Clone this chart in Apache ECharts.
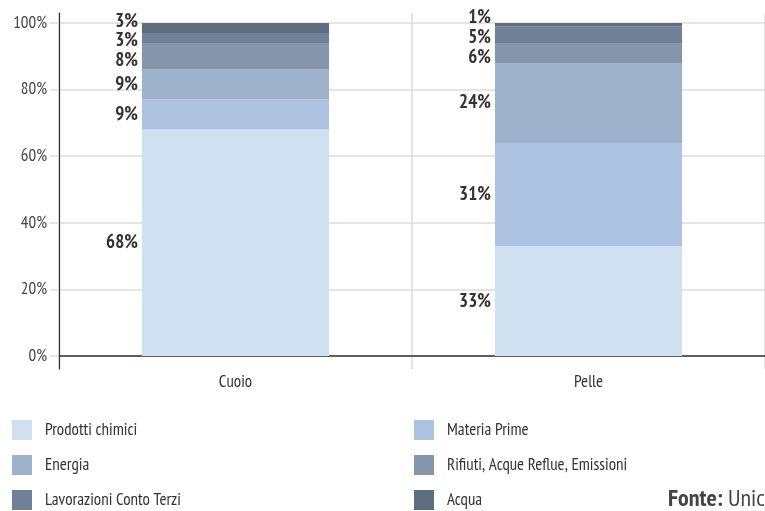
<!DOCTYPE html>
<html>
<head>
<meta charset="utf-8">
<script src="https://cdn.jsdelivr.net/npm/echarts@6/dist/echarts.min.js"></script>
<style>
  html, body { margin: 0; padding: 0; background: #fff; }
  #chart { width: 765px; height: 511px; }
</style>
</head>
<body>
<div id="chart"></div>
<script>
// Cost breakdown (%) for the two product categories
const categories = ['Cuoio', 'Pelle'];
const prodottiChimici = [68, 33];
const materiaPrime = [9, 31];
const energia = [9, 24];
const rifiuti = [8, 6];
const lavorazioni = [3, 5];
const acqua = [3, 1];
const yTicks = [0, 20, 40, 60, 80, 100];

const FONT = '"PT Sans Narrow", "Roboto Condensed", sans-serif';

const seriesDefs = [
  { name: 'Prodotti chimici', data: prodottiChimici, color: '#cfe1f0' },
  { name: 'Materia Prime', data: materiaPrime, color: '#adc2e0' },
  { name: 'Energia', data: energia, color: '#9fb2cc' },
  { name: 'Rifiuti, Acque Reflue, Emissioni', data: rifiuti, color: '#8595ab' },
  { name: 'Lavorazioni Conto Terzi', data: lavorazioni, color: '#718197' },
  { name: 'Acqua', data: acqua, color: '#5e6e7e' }
];

// Label centres (in % units) for every segment: start at the segment middle,
// then spread crowded neighbours apart symmetrically so they never collide.
const LABEL_GAP = 5.9;
function clusterLayout(cl, centres) {
  const mean = cl.members.reduce(function (s, i) { return s + centres[i]; }, 0) / cl.members.length;
  const top = mean + (cl.members.length - 1) * LABEL_GAP / 2;
  return cl.members.map(function (i, k) { return top - k * LABEL_GAP; });
}
function spreadLabels(values) {
  const centres = [];
  let acc = 0;
  values.forEach(function (v) { centres.push(acc + v / 2); acc += v; });
  // walk from the top of the stack downwards
  const order = centres.map(function (c, i) { return i; }).reverse();
  const clusters = [];
  order.forEach(function (idx) {
    clusters.push({ members: [idx] });
    // merge while the new cluster collides with the one above it
    while (clusters.length > 1) {
      const cur = clusters[clusters.length - 1];
      const prev = clusters[clusters.length - 2];
      const prevPos = clusterLayout(prev, centres);
      const curPos = clusterLayout(cur, centres);
      if (prevPos[prevPos.length - 1] - curPos[0] < LABEL_GAP) {
        prev.members = prev.members.concat(cur.members);
        clusters.pop();
      } else {
        break;
      }
    }
  });
  const out = centres.slice();
  clusters.forEach(function (cl) {
    const pos = clusterLayout(cl, centres);
    cl.members.forEach(function (i, k) { out[i] = pos[k]; });
  });
  return { natural: centres, placed: out };
}
const labelPlan = categories.map(function (c, ci) {
  return spreadLabels(seriesDefs.map(function (s) { return s.data[ci]; }));
});

const chart = echarts.init(document.getElementById('chart'), null, { renderer: 'canvas' });

const legendCommon = {
  orient: 'vertical',
  top: 420,
  padding: 0,
  itemWidth: 20,
  itemHeight: 20,
  itemGap: 15,
  icon: 'rect',
  selectedMode: false,
  textStyle: { fontFamily: FONT, fontSize: 17, color: '#333', padding: [0, 0, 0, 8] }
};

chart.setOption({
  animation: false,
  backgroundColor: '#ffffff',
  grid: [
    { left: 59, right: 0, top: 23, bottom: 155 },
    { left: 59, right: -1, top: 13, bottom: 142 }
  ],
  legend: [
    Object.assign({ left: 12, data: ['Prodotti chimici', 'Energia', 'Lavorazioni Conto Terzi'] }, legendCommon),
    Object.assign({ left: 414, data: ['Materia Prime', 'Rifiuti, Acque Reflue, Emissioni', 'Acqua'] }, legendCommon)
  ],
  xAxis: [
    {
      type: 'category',
      gridIndex: 0,
      data: categories,
      axisLine: { show: true, lineStyle: { color: '#333', width: 1.5 } },
      axisTick: { show: false },
      splitLine: { show: false },
      axisLabel: { fontFamily: FONT, fontSize: 17, color: '#333', margin: 18 }
    },
    {
      type: 'category',
      gridIndex: 1,
      data: categories,
      axisLine: { show: false },
      axisTick: { show: false },
      axisLabel: { show: false },
      splitLine: { show: true, lineStyle: { color: '#dddddd', width: 1.5 } }
    }
  ],
  yAxis: [
    {
      type: 'value',
      gridIndex: 0,
      min: yTicks[0],
      max: yTicks[yTicks.length - 1],
      interval: 20,
      axisLine: { show: false },
      axisTick: { show: true, length: 9, lineStyle: { color: '#dddddd', width: 1.5 } },
      splitLine: { show: true, lineStyle: { color: '#dddddd', width: 1.5 } },
      axisLabel: { fontFamily: FONT, fontSize: 17, color: '#444', margin: 12, formatter: '{value}%' }
    },
    {
      type: 'value',
      gridIndex: 1,
      min: 0,
      max: 1,
      axisLine: { show: true, lineStyle: { color: '#333', width: 1.2 } },
      axisTick: { show: false },
      axisLabel: { show: false },
      splitLine: { show: false }
    }
  ],
  series: seriesDefs.map(function (s, si) {
    return {
      name: s.name,
      type: 'bar',
      stack: 'total',
      xAxisIndex: 0,
      yAxisIndex: 0,
      barWidth: '53%',
      data: s.data,
      itemStyle: { color: s.color },
      label: {
        show: true,
        position: 'left',
        distance: 4,
        formatter: '{c}%',
        fontFamily: FONT,
        fontWeight: 'bold',
        fontSize: 19,
        color: '#333'
      },
      labelLayout: function (params) {
        const plan = labelPlan[params.dataIndex];
        const v = s.data[params.dataIndex];
        const pxPerUnit = Math.abs(params.rect.height) / v;
        const shift = plan.placed[si] - plan.natural[si];
        return { dy: -shift * pxPerUnit };
      }
    };
  }),
  graphic: [
    {
      type: 'text',
      left: 668,
      top: 487,
      style: {
        text: '{b|Fonte:} Unic',
        rich: {
          b: { fontFamily: FONT, fontWeight: 'bold', fontSize: 24, fill: '#444' }
        },
        fontFamily: FONT,
        fontSize: 24,
        fill: '#444'
      }
    }
  ]
});
</script>
</body>
</html>
